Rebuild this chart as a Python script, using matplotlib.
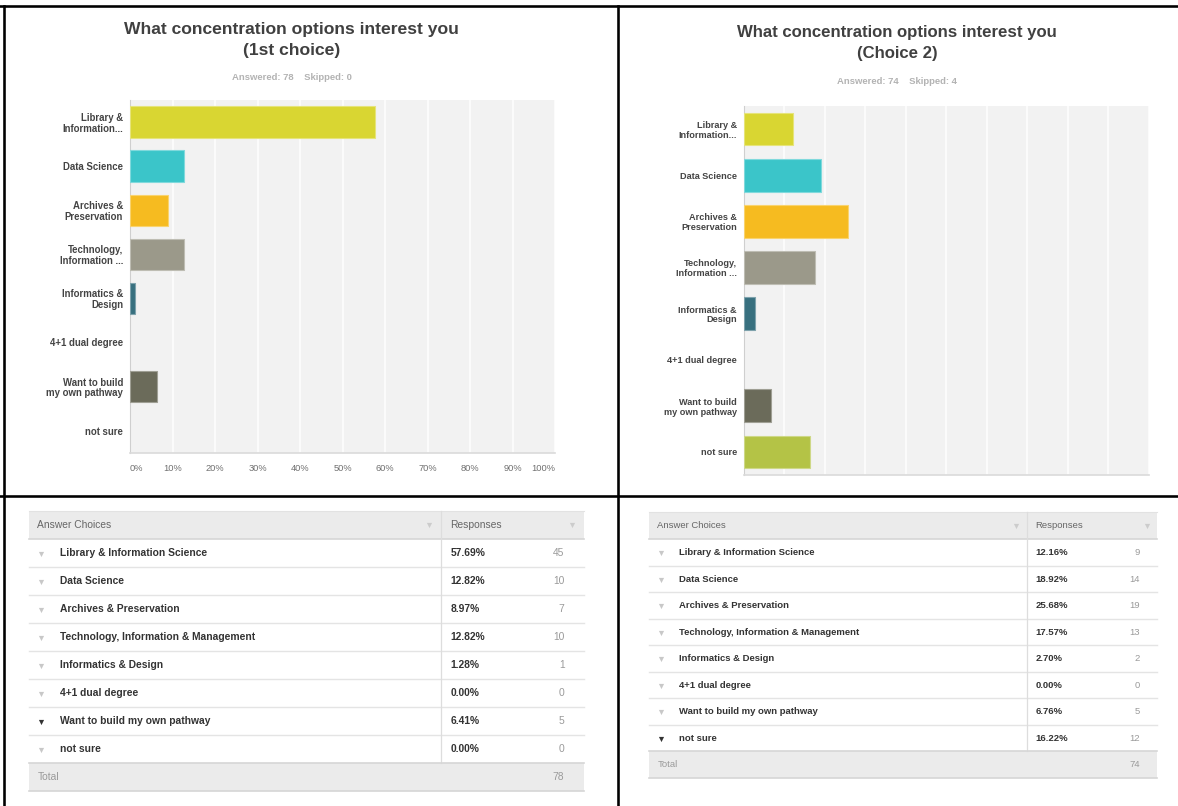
import matplotlib.pyplot as plt
import matplotlib.colors as mcolors
import numpy as np

plt.rcParams['font.family'] = ['Liberation Sans', 'DejaVu Sans']

W, H = 1178, 806

# data
categories = ["Library & Information Science", "Data Science", "Archives & Preservation",
              "Technology, Information & Management", "Informatics & Design",
              "4+1 dual degree", "Want to build my own pathway", "not sure"]
short_labels = ["Library &\nInformation...", "Data Science", "Archives &\nPreservation",
                "Technology,\nInformation ...", "Informatics &\nDesign", "4+1 dual degree",
                "Want to build\nmy own pathway", "not sure"]
bar_colors = ["#d9d632", "#3bc5c9", "#f6bb20", "#9b998a", "#38707f", "#c0c0c0", "#6b6b5a", "#b4c346"]

pct_1 = [57.69, 12.82, 8.97, 12.82, 1.28, 0.00, 6.41, 0.00]
count_1 = [45, 10, 7, 10, 1, 0, 5, 0]
answered_1, skipped_1 = 78, 0
dark_row_1 = 6

pct_2 = [12.16, 18.92, 25.68, 17.57, 2.70, 0.00, 6.76, 16.22]
count_2 = [9, 14, 19, 13, 2, 0, 5, 12]
answered_2, skipped_2 = 74, 4
dark_row_2 = 7

ticks = np.arange(0, 101, 10)
tick_labels = [f"{t}%" for t in ticks]


def px_axes(fig, x0, y0, x1, y1):
    return fig.add_axes([x0 / W, 1 - y1 / H, (x1 - x0) / W, (y1 - y0) / H])


def lighter(c, amount=0.35):
    r, g, b = mcolors.to_rgb(c)
    return (r + (1 - r) * amount, g + (1 - g) * amount, b + (1 - b) * amount)


def draw_chart(fig, box, pct, title, answered, skipped, cx, title_y, fs_title, fs_lab, show_ticks):
    ax = px_axes(fig, *box)
    ax.set_facecolor("#f2f2f2")
    y = np.arange(len(pct))
    ax.barh(y, pct, height=0.71, color=bar_colors,
            edgecolor=[lighter(c) for c in bar_colors],
            linewidth=[0.8 if v > 0 else 0 for v in pct], zorder=3)
    ax.set_xlim(0, 100)
    ax.set_ylim(len(pct) - 0.5, -0.5)
    ax.set_xticks(ticks)
    ax.grid(axis='x', color='white', lw=1.1, zorder=1)
    ax.grid(axis='y', visible=False)
    for s in ['top', 'right']:
        ax.spines[s].set_visible(False)
    ax.spines['left'].set_color('#cfcfcf')
    ax.spines['bottom'].set_color('#dadada')
    ax.spines['bottom'].set_linewidth(1.2)
    ax.tick_params(length=0)
    ax.tick_params(axis='y', pad=5)
    ax.set_yticks(y)
    ax.set_yticklabels(short_labels, fontsize=fs_lab, fontweight='bold', color='#444444',
                       linespacing=1.1)
    if show_ticks:
        ax.tick_params(axis='x', pad=8)
        ax.set_xticklabels(tick_labels, fontsize=6.7, color='#707070')
        lbls = ax.get_xticklabels()
        lbls[0].set_ha('left')
        lbls[-1].set_ha('right')
    else:
        ax.set_xticklabels([])

    fig.text(cx / W, 1 - title_y[0] / H, title[0], ha='center', va='center',
             fontsize=fs_title, fontweight='bold', color='#404040')
    fig.text(cx / W, 1 - title_y[1] / H, title[1], ha='center', va='center',
             fontsize=fs_title, fontweight='bold', color='#404040')
    fig.text(cx / W, 1 - title_y[2] / H, f"Answered: {answered}    Skipped: {skipped}",
             ha='center', va='center', fontsize=6.8, fontweight='bold', color='#b3b3b3')
    return ax


def draw_table(ax, lay, pct, count, total, dark_row, fs):
    x0, x1, xdiv = lay['x0'], lay['x1'], lay['xdiv']
    top, hh, rh = lay['top'], lay['head_h'], lay['row_h']
    n = len(pct)
    # header
    ax.add_patch(plt.Rectangle((x0, top), x1 - x0, hh, color='#ebebeb', lw=0))
    ax.plot([x0, x1], [top, top], color='#e2e2e2', lw=0.8)
    ax.plot([x0, x1], [top + hh, top + hh], color='#d6d6d6', lw=1.2)
    hy = top + hh / 2
    ax.text(lay['head_x'], hy, "Answer Choices", fontsize=fs, color='#666666', va='center')
    ax.text(lay['pct_x'], hy, "Responses", fontsize=fs, color='#666666', va='center')
    ax.scatter(lay['head_tri'], [hy + 0.5] * 2, marker='v', s=14, color='#cccccc', lw=0)
    # rows
    body_top = top + hh
    for i in range(n):
        cy = body_top + rh * (i + 0.5)
        ax.text(lay['text_x'], cy, categories[i], fontsize=fs, fontweight='bold',
                color='#333333', va='center')
        ax.text(lay['pct_x'], cy, f"{pct[i]:.2f}%", fontsize=fs, fontweight='bold',
                color='#333333', va='center')
        ax.text(lay['count_x'], cy, str(count[i]), fontsize=fs, color='#9a9a9a',
                va='center', ha='right')
        tri_c = '#333333' if i == dark_row else '#c8c8c8'
        ax.scatter([lay['tri_x']], [cy + 0.5], marker='v', s=14, color=tri_c, lw=0)
        if i < n - 1:
            ax.plot([x0, x1], [body_top + rh * (i + 1)] * 2, color='#e4e4e4', lw=1.0)
    tot_top = body_top + rh * n
    ax.plot([xdiv, xdiv], [top, tot_top], color='#dddddd', lw=0.9)
    # total row
    ax.add_patch(plt.Rectangle((x0, tot_top), x1 - x0, rh, color='#ebebeb', lw=0))
    ax.plot([x0, x1], [tot_top, tot_top], color='#d6d6d6', lw=1.2)
    ax.plot([x0, x1], [tot_top + rh, tot_top + rh], color='#d6d6d6', lw=1.2)
    ax.text(lay['head_x'], tot_top + rh / 2, "Total", fontsize=fs, color='#9a9a9a', va='center')
    ax.text(lay['count_x'], tot_top + rh / 2, str(total), fontsize=fs, color='#9a9a9a',
            va='center', ha='right')


fig = plt.figure(figsize=(W / 100, H / 100), dpi=100)

bg = fig.add_axes([0, 0, 1, 1])
bg.set_xlim(0, W)
bg.set_ylim(H, 0)
bg.axis('off')

draw_chart(fig, (130, 100, 555, 452.7), pct_1,
           ("What concentration options interest you", "(1st choice)"),
           answered_1, skipped_1, 291.5, (29.5, 51, 77.3), 12.6, 6.9, True)
draw_chart(fig, (744, 106, 1148.5, 475), pct_2,
           ("What concentration options interest you", "(Choice 2)"),
           answered_2, skipped_2, 897, (32, 53.5, 82), 12.1, 6.6, False)

left_tab = dict(x0=28.5, x1=583.5, xdiv=441, top=510.7, head_h=28.3, row_h=28,
                head_x=37.3, pct_x=450.6, text_x=60, tri_x=40.7, count_x=564.4,
                head_tri=[429, 572])
right_tab = dict(x0=649, x1=1157.4, xdiv=1027, top=512, head_h=27.3, row_h=26.5,
                 head_x=657.4, pct_x=1035.6, text_x=678.7, tri_x=661, count_x=1140,
                 head_tri=[1015.7, 1147])
draw_table(bg, left_tab, pct_1, count_1, answered_1, dark_row_1, 7.4)
draw_table(bg, right_tab, pct_2, count_2, answered_2, dark_row_2, 6.8)

# black frame lines of the screenshot collage
frame_lw = 2.6 * 0.72
bg.plot([0, W], [6, 6], color='black', lw=frame_lw)
bg.plot([0, W], [495.5, 495.5], color='black', lw=frame_lw)
bg.plot([3.5, 3.5], [6, H], color='black', lw=frame_lw)
bg.plot([617.5, 617.5], [6, H], color='black', lw=frame_lw)

fig.savefig("out.png", dpi=100)
